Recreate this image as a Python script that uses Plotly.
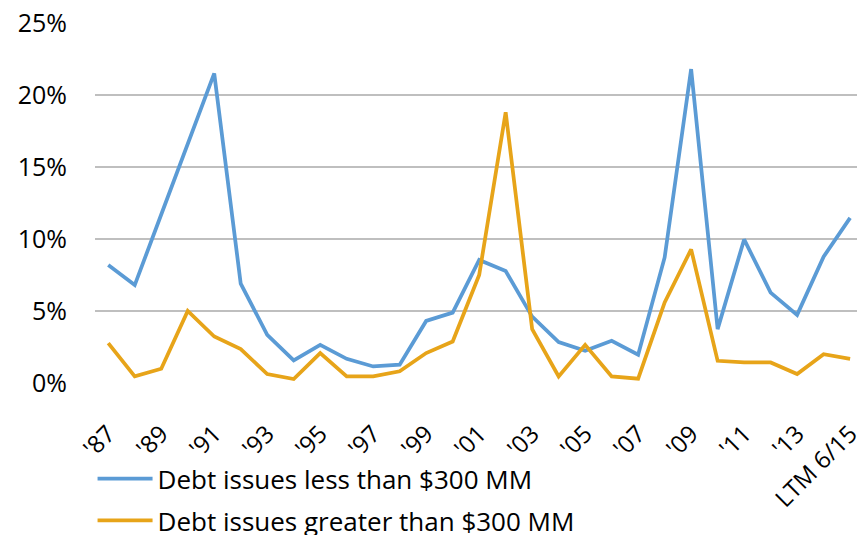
import plotly.graph_objects as go

categories = ["'87", "'88", "'89", "'90", "'91", "'92", "'93", "'94", "'95", "'96",
              "'97", "'98", "'99", "'00", "'01", "'02", "'03", "'04", "'05", "'06",
              "'07", "'08", "'09", "'10", "'11", "'12", "'13", "'14", "LTM 6/15"]

less_300 = [8.2, 6.8, 11.7, 16.6, 21.5, 6.9, 3.35, 1.57, 2.65, 1.68,
            1.15, 1.27, 4.31, 4.89, 8.54, 7.78, 4.61, 2.84, 2.24, 2.93,
            1.96, 8.72, 21.8, 3.74, 9.97, 6.28, 4.73, 8.77, 11.47]

greater_300 = [2.77, 0.46, 0.99, 5.0, 3.23, 2.35, 0.62, 0.28, 2.08, 0.46,
               0.46, 0.81, 2.08, 2.88, 7.5, 18.8, 3.74, 0.46, 2.65, 0.46,
               0.30, 5.6, 9.28, 1.54, 1.43, 1.43, 0.62, 2.0, 1.68]

tick_labels = [c for i, c in enumerate(categories) if i % 2 == 0]
y_ticks = [0, 5, 10, 15, 20, 25]

FONT = "Open Sans"
FS = 26

fig = go.Figure()
fig.add_trace(go.Scatter(x=categories, y=less_300, mode="lines",
                         name="Debt issues less than $300 MM", legendgroup="a",
                         line=dict(color="#5B9BD5", width=3.75)))
fig.add_trace(go.Scatter(x=categories, y=greater_300, mode="lines",
                         name="Debt issues greater than $300 MM", legendgroup="b",
                         line=dict(color="#E7A419", width=3.75)))

fig.update_layout(
    width=857, height=535,
    margin=dict(l=95, r=0, t=23, b=152, autoexpand=False),
    plot_bgcolor="white", paper_bgcolor="white",
    font=dict(family=FONT, size=FS, color="#000000"),
    showlegend=True,
    legend=dict(orientation="v", xref="container", yref="container",
                x=0.108, xanchor="left", y=0.066, yanchor="middle",
                font=dict(family=FONT, size=FS, color="#000000"),
                itemwidth=55, traceorder="grouped", tracegroupgap=5,
                bgcolor="rgba(0,0,0,0)"),
)

fig.update_xaxes(
    type="category", range=[-0.5, 28.26], automargin=False,
    tickmode="array", tickvals=tick_labels, ticktext=tick_labels,
    tickangle=-45, showgrid=False, showline=False, zeroline=False,
    ticks="", ticklabelstandoff=31,
    tickfont=dict(family=FONT, size=24, color="#000000"),
)
fig.update_yaxes(
    range=[0, 25], automargin=False,
    tickvals=y_ticks, ticktext=[f"{v}%" for v in y_ticks],
    showgrid=True, gridcolor="#BFBFBF", gridwidth=1.5,
    zeroline=False, showline=False, ticks="", ticklabelstandoff=27,
    tickfont=dict(family=FONT, size=25, color="#000000"),
)

fig.write_html("out.html")
